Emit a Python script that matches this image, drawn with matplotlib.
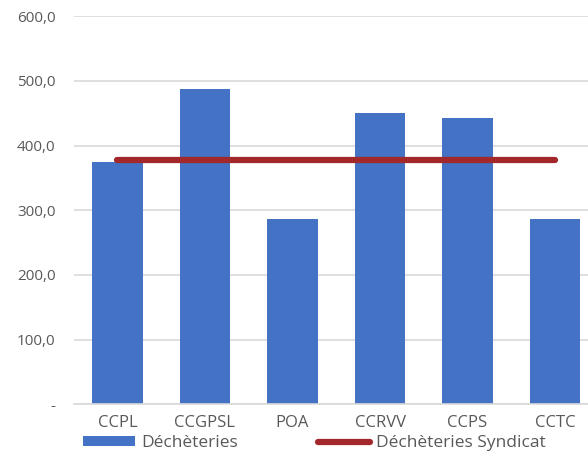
import numpy as np
import matplotlib
matplotlib.use("Agg")
import matplotlib.pyplot as plt
from matplotlib.ticker import FuncFormatter

categories = ["CCPL", "CCGPSL", "POA", "CCRVV", "CCPS", "CCTC"]
decheteries = [374.5, 487.5, 286.0, 451.0, 443.0, 286.0]
syndicat = [377.0, 377.0, 377.0, 377.0, 377.0, 377.0]
yticks = [0, 100, 200, 300, 400, 500, 600]

plt.rcParams['font.family'] = ['Open Sans', 'DejaVu Sans']
gray_txt = '#595959'

fig = plt.figure(figsize=(5.88, 4.54), dpi=100)
ax = fig.add_axes([0.1254, 0.1095, 1 - 0.1254, 0.855])

x = np.arange(len(categories))
bars = ax.bar(x, decheteries, width=0.58, color='#4472C4', label='Déchèteries', zorder=2)
line, = ax.plot(x, syndicat, color='#A3282B', lw=4.5, solid_capstyle='round',
                label='Déchèteries Syndicat', zorder=3)

ax.set_ylim(0, 600)
ax.set_xlim(-0.5, 5.377)
ax.set_yticks(yticks)
ax.yaxis.set_major_formatter(FuncFormatter(
    lambda v, p: '-' if v == 0 else f"{v:.1f}".replace('.', ',')))
ax.set_xticks(x)
ax.set_xticklabels(categories)

ax.grid(axis='y', color='#D9D9D9', lw=1.2, zorder=0)
for s in ['top', 'right', 'left']:
    ax.spines[s].set_visible(False)
ax.spines['bottom'].set_color('#D9D9D9')
ax.spines['bottom'].set_linewidth(1.2)
ax.tick_params(axis='both', length=0, colors=gray_txt)
ax.tick_params(axis='y', pad=13, labelsize=11)
ax.tick_params(axis='x', pad=8, labelsize=12)

fig.legend([bars, line], ['Déchèteries', 'Déchèteries Syndicat'],
           loc='center left', bbox_to_anchor=(0.141, 0.024), ncol=2, frameon=False,
           fontsize=12.5, labelcolor=gray_txt, handlelength=3.0, handleheight=0.5,
           columnspacing=4.6, handletextpad=0.35, borderpad=0, borderaxespad=0)

fig.savefig('out.png', dpi=100)
